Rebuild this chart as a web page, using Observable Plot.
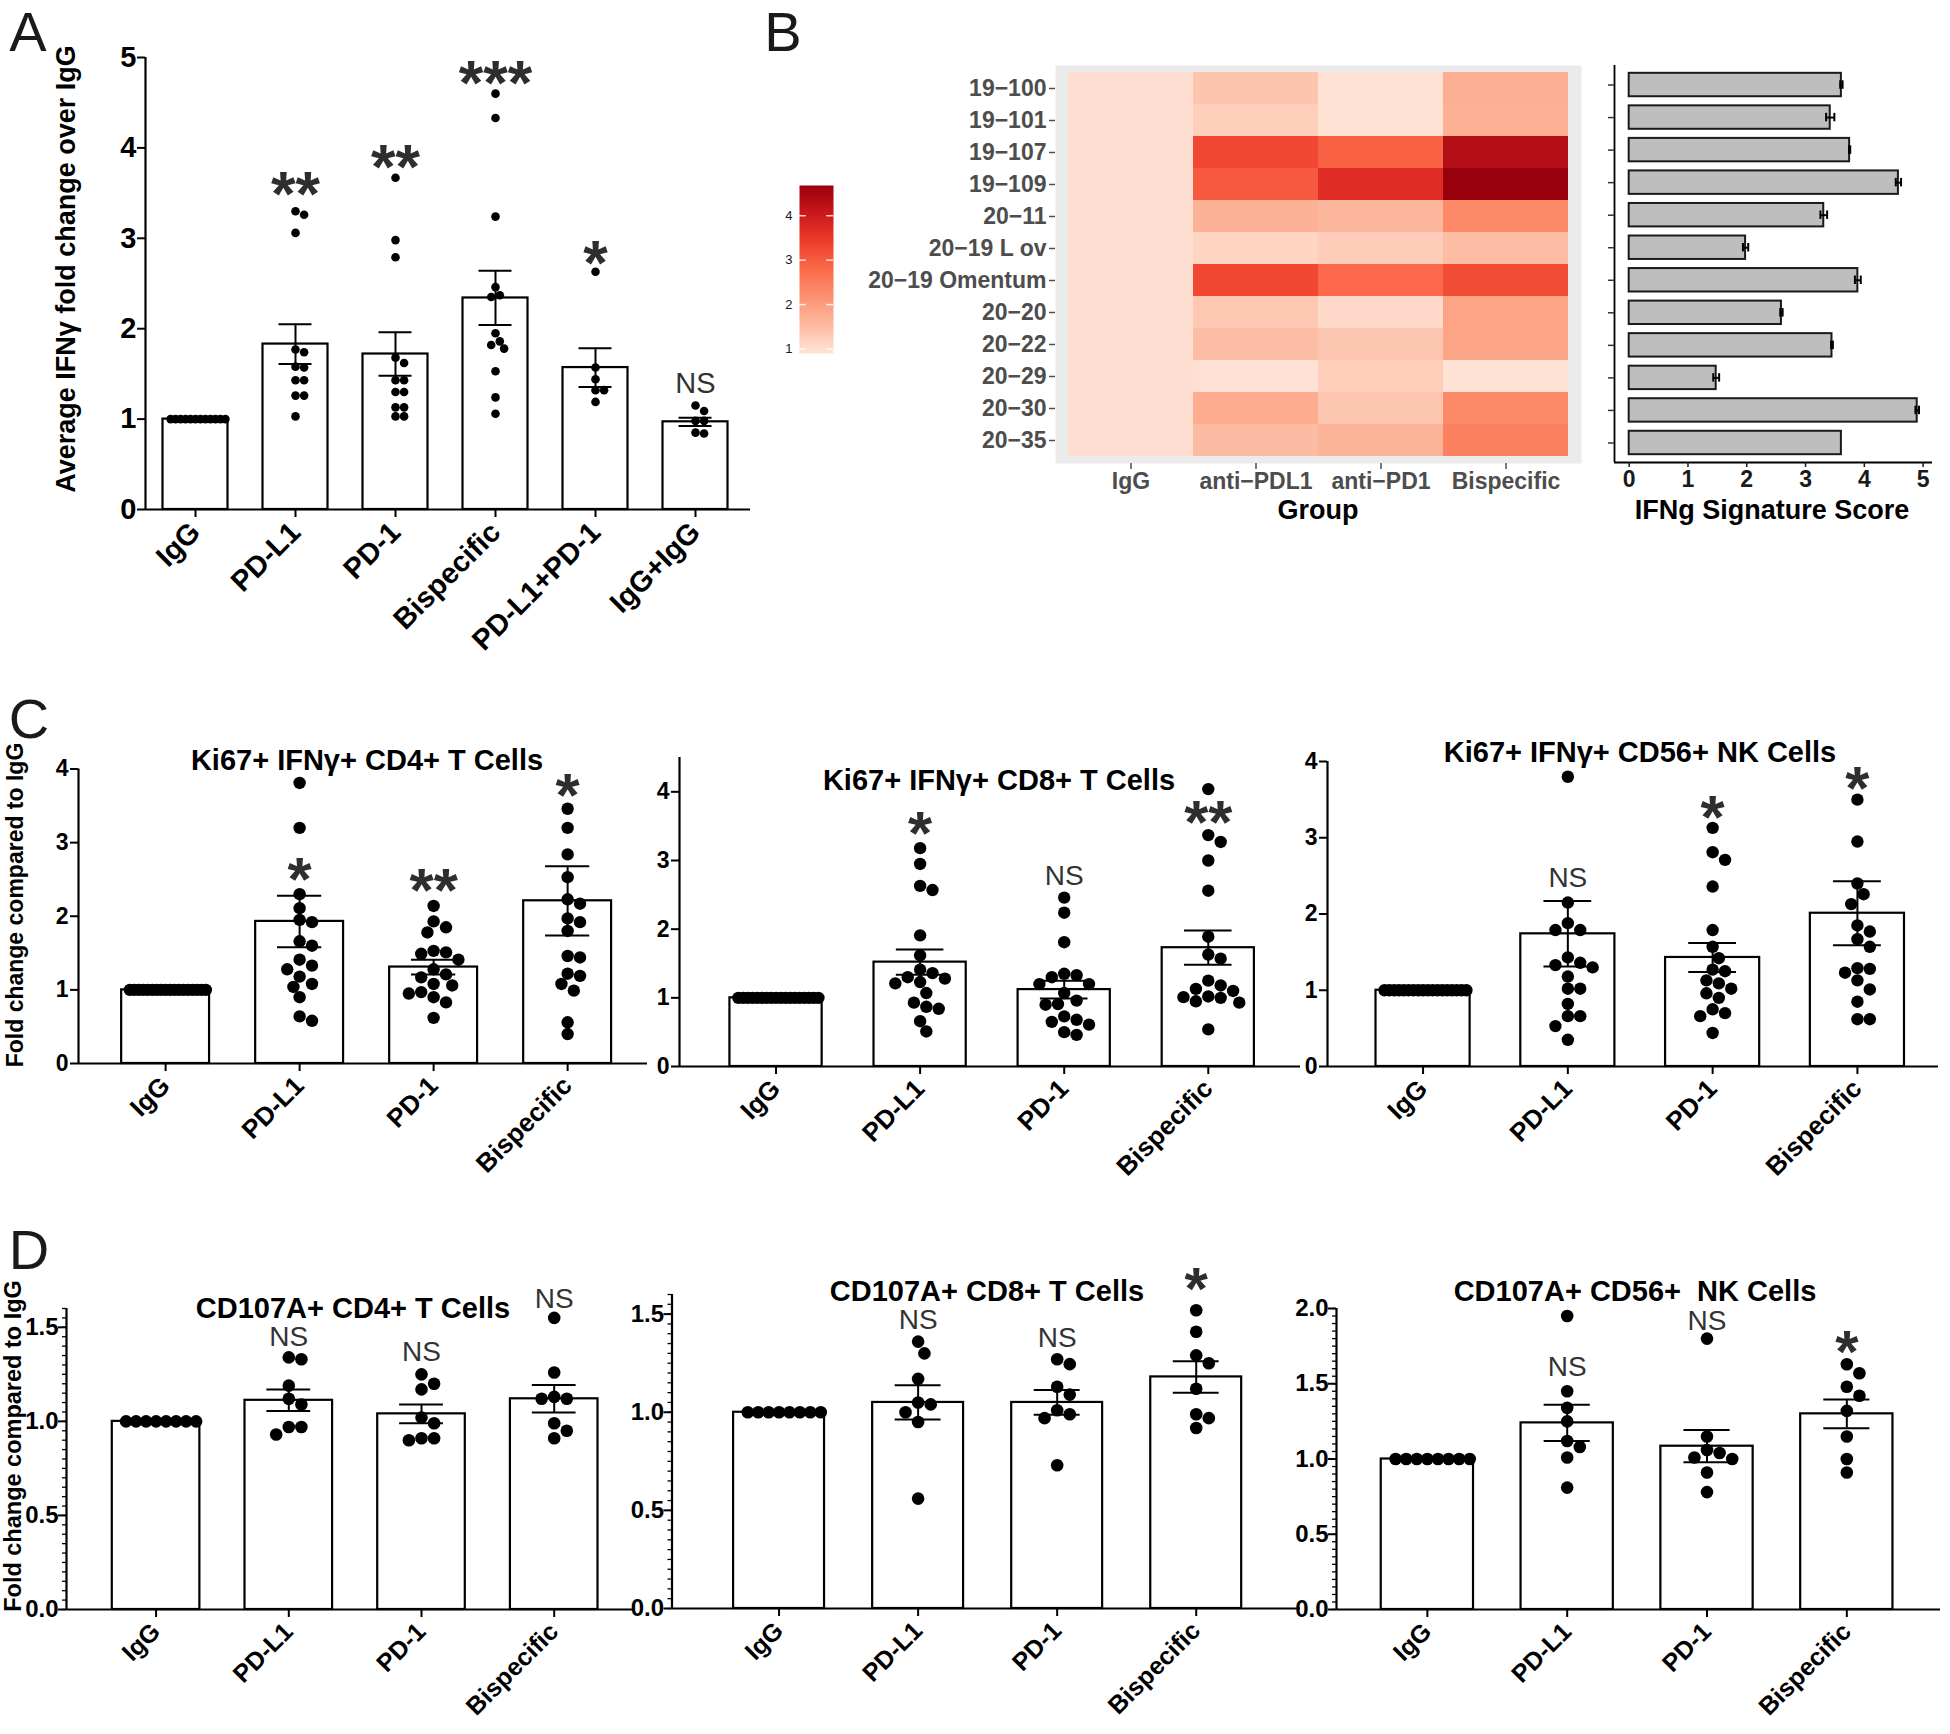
<!DOCTYPE html>
<html><head><meta charset="utf-8">
<script src="https://cdn.jsdelivr.net/npm/d3@7"></script>
<script src="https://cdn.jsdelivr.net/npm/@observablehq/plot@0.6"></script>
<style>
html,body{margin:0;padding:0;background:#fff;}
#page{position:relative;width:1950px;height:1734px;overflow:hidden;background:#fff;font-family:'Liberation Sans',Arial,sans-serif;}
.pl{position:absolute;}
.pl svg{overflow:visible;}
.lbl{position:absolute;white-space:pre;line-height:1;}
</style></head><body><div id="page"></div>
<script>
// ---------------- DATA ----------------
// Panel A
const groupsA = ["IgG", "PD-L1", "PD-1", "Bispecific", "PD-L1+PD-1", "IgG+IgG"];
const meanA = [1.00, 1.83, 1.72, 2.34, 1.57, 0.97];
const semA = [0, 0.22, 0.24, 0.30, 0.215, 0.045];
const dotsA = [
  [1, 1, 1, 1, 1, 1, 1, 1, 1, 1, 1, 1],
  [3.30, 3.26, 3.06, 1.77, 1.74, 1.58, 1.57, 1.43, 1.43, 1.26, 1.26, 1.03],
  [3.67, 2.98, 2.79, 1.68, 1.62, 1.43, 1.43, 1.30, 1.30, 1.13, 1.13, 1.03, 1.03],
  [4.60, 4.33, 3.24, 2.46, 2.37, 2.35, 1.95, 1.86, 1.82, 1.78, 1.53, 1.24, 1.06],
  [2.63, 1.57, 1.44, 1.32, 1.32, 1.19],
  [1.15, 1.09, 0.98, 0.98, 0.85, 0.84]
];
const sigA = ["", "**", "**", "***", "*", "NS"];
const sigYA = [null, 3.56, 3.86, 4.79, 2.79, 1.39];

// Panel B
const samples = ["19\u2212100", "19\u2212101", "19\u2212107", "19\u2212109", "20\u221211", "20\u221219 L ov", "20\u221219 Omentum", "20\u221220", "20\u221222", "20\u221229", "20\u221230", "20\u221235"];
const heatGroups = ["IgG", "anti\u2212PDL1", "anti\u2212PD1", "Bispecific"];
const heatIgG = [1, 1, 1, 1, 1, 1, 1, 1, 1, 1, 1, 1];
const heatPDL1 = [1.38, 1.23, 3.28, 3.04, 1.68, 1.14, 3.27, 1.35, 1.50, 0.96, 1.76, 1.51];
const heatPD1 = [0.95, 0.95, 2.93, 3.70, 1.61, 1.27, 2.80, 1.08, 1.36, 1.24, 1.36, 1.64];
const heatBisp = [1.71, 1.70, 4.33, 4.68, 2.31, 1.50, 3.22, 1.88, 1.87, 0.95, 2.31, 2.44];
const scoreB = [3.61, 3.42, 3.75, 4.58, 3.31, 1.98, 3.89, 2.59, 3.45, 1.48, 4.90, 3.61];
const scoreErrB = [0.02, 0.07, 0.01, 0.045, 0.057, 0.045, 0.05, 0.02, 0.015, 0.05, 0.03, 0];
const legendTicks = [1, 2, 3, 4];
const scoreTicks = [0, 1, 2, 3, 4, 5];
const reds7 = ["#FEE5D9", "#FCBBA1", "#FC9272", "#FB6A4A", "#EF3B2C", "#CB181D", "#99000D"];

// Panel C
const groupsC = ["IgG", "PD-L1", "PD-1", "Bispecific"];
const meanC1 = [1.00, 1.93, 1.31, 2.21];
const semC1 = [0, 0.35, 0.10, 0.47];
const dotsC1 = [
  [1, 1, 1, 1, 1, 1, 1, 1, 1, 1, 1, 1, 1, 1, 1, 1, 1, 1],
  [3.81, 3.20, 2.30, 2.11, 1.95, 1.92, 1.66, 1.60, 1.41, 1.33, 1.28, 1.18, 1.08, 1.04, 0.90, 0.64, 0.58],
  [2.14, 1.93, 1.85, 1.78, 1.53, 1.51, 1.49, 1.41, 1.28, 1.21, 1.17, 1.08, 1.06, 0.97, 0.95, 0.90, 0.83, 0.62],
  [3.46, 3.20, 2.84, 2.53, 2.23, 2.17, 1.97, 1.92, 1.80, 1.46, 1.44, 1.22, 1.19, 1.08, 0.99, 0.56, 0.40]
];
const sigC1 = ["", "*", "**", "*"];
const sigYC1 = [null, 2.58, 2.44, 3.72];

const meanC2 = [1.00, 1.52, 1.12, 1.73];
const semC2 = [0, 0.185, 0.13, 0.25];
const dotsC2 = [
  [1, 1, 1, 1, 1, 1, 1, 1, 1, 1, 1, 1, 1, 1, 1, 1, 1, 1],
  [3.18, 2.95, 2.63, 2.57, 1.91, 1.62, 1.41, 1.36, 1.30, 1.28, 1.23, 1.21, 1.07, 0.93, 0.87, 0.84, 0.66, 0.51],
  [2.46, 2.24, 1.81, 1.35, 1.33, 1.30, 1.20, 1.20, 1.07, 0.96, 0.91, 0.90, 0.73, 0.68, 0.65, 0.61, 0.50, 0.46],
  [4.04, 3.37, 3.27, 3.00, 2.56, 1.89, 1.63, 1.57, 1.25, 1.18, 1.13, 1.10, 1.02, 1.01, 1.00, 0.95, 0.93, 0.54]
];
const sigC2 = ["", "*", "NS", "**"];
const sigYC2 = [null, 3.48, 2.77, 3.65];

const meanC3 = [1.00, 1.74, 1.43, 2.01];
const semC3 = [0, 0.43, 0.19, 0.42];
const dotsC3 = [
  [1, 1, 1, 1, 1, 1, 1, 1, 1, 1, 1, 1, 1, 1, 1, 1, 1, 1],
  [3.80, 2.15, 1.88, 1.79, 1.79, 1.43, 1.36, 1.33, 1.30, 1.18, 1.02, 1.02, 0.82, 0.66, 0.66, 0.53, 0.35],
  [3.13, 2.81, 2.71, 2.36, 1.79, 1.57, 1.42, 1.27, 1.25, 1.13, 1.09, 1.02, 0.96, 0.90, 0.75, 0.70, 0.66, 0.44],
  [3.50, 2.95, 2.40, 2.26, 2.13, 1.85, 1.77, 1.67, 1.57, 1.29, 1.28, 1.23, 1.13, 1.01, 0.85, 0.62, 0.62]
];
const sigC3 = ["", "NS", "*", "*"];
const sigYC3 = [null, 2.47, 3.35, 3.73];

// Panel D
const meanD1 = [1.00, 1.112, 1.04, 1.12];
const semD1 = [0, 0.057, 0.05, 0.073];
const dotsD1 = [
  [1, 1, 1, 1, 1, 1, 1, 1],
  [1.34, 1.33, 1.19, 1.12, 1.09, 0.97, 0.97, 0.93],
  [1.25, 1.20, 1.17, 1.02, 0.99, 0.91, 0.91, 0.90],
  [1.55, 1.26, 1.13, 1.12, 1.12, 0.99, 0.95, 0.91]
];
const sigD1 = ["", "NS", "NS", "NS"];
const sigYD1 = [null, 1.45, 1.37, 1.65];

const meanD2 = [1.00, 1.05, 1.05, 1.18];
const semD2 = [0, 0.087, 0.063, 0.08];
const dotsD2 = [
  [1, 1, 1, 1, 1, 1, 1, 1],
  [1.36, 1.30, 1.17, 1.05, 1.04, 1.00, 0.95, 0.56],
  [1.27, 1.245, 1.13, 1.09, 1.01, 0.99, 0.97, 0.73],
  [1.52, 1.41, 1.29, 1.25, 1.12, 0.99, 0.97, 0.92]
];
const sigD2 = ["", "NS", "NS", "*"];
const sigYD2 = [null, 1.47, 1.38, 1.66];

const meanD3 = [1.00, 1.24, 1.085, 1.30];
const semD3 = [0, 0.12, 0.107, 0.095];
const dotsD3 = [
  [1, 1, 1, 1, 1, 1, 1, 1],
  [1.95, 1.45, 1.34, 1.25, 1.12, 1.08, 1.01, 0.81],
  [1.80, 1.15, 1.06, 1.04, 1.01, 1.00, 0.91, 0.78],
  [1.63, 1.57, 1.48, 1.42, 1.32, 1.15, 1.00, 0.91]
];
const sigD3 = ["", "NS", "NS", "*"];
const sigYD3 = [null, 1.61, 1.92, 1.75];

// ---------------- HELPERS ----------------
const FONT = "'Liberation Sans', Arial, Helvetica, sans-serif";
const page = document.getElementById("page");
function place(node, x, y) {
  const d = document.createElement("div");
  d.className = "pl"; d.style.left = x + "px"; d.style.top = y + "px";
  d.appendChild(node); page.appendChild(d);
}
function label(text, x, y, o = {}) {
  const el = document.createElement("div");
  el.className = "lbl";
  el.textContent = text;
  el.style.left = x + "px"; el.style.top = y + "px";
  el.style.fontSize = (o.size || 20) + "px";
  el.style.fontWeight = o.weight || "bold";
  el.style.color = o.color || "#000";
  el.style.fontFamily = o.family || FONT;
  el.style.transform = "translate(-50%,-50%)" + (o.rotate ? ` rotate(${o.rotate}deg)` : "");
  page.appendChild(el);
}

function barPanel(c) {
  const [sx, sy, sw, sh] = c.box;
  const [fl, fr, ft, fb] = c.frame;
  const xDom = c.xDom, yMax = c.yMax;
  const pxX = (fr - fl) / (xDom[1] - xDom[0]);
  const pxY = (fb - ft) / yMax;
  const d = 2 * c.r;
  const dotData = [];
  c.dots.forEach((vals, i) => {
    const placed = [];
    for (const v of vals) {
      const py = v * pxY;
      let off = 0;
      for (let n = 0; n < 400; n++) {
        const cand = n === 0 ? 0 : (n % 2 ? 1 : -1) * Math.ceil(n / 2) * d / 2;
        if (placed.every(p => (p.x - cand) ** 2 + (p.y - py) ** 2 >= d * d * 0.9)) { off = cand; break; }
      }
      placed.push({x: off, y: py, v});
    }
    const maxOff = d3.max(placed, p => Math.abs(p.x)) || 0;
    const lim = c.barHalf * pxX - c.r * 0.6;
    const s = maxOff > lim ? lim / maxOff : 1;
    for (const p of placed) dotData.push({x: i + p.x * s / pxX, y: p.v});
  });
  const bars = c.groups.map((g, i) => ({i, m: c.mean[i], e: c.sem[i]}));
  const errs = bars.filter(b => b.e > 0);
  const caps = errs.flatMap(b => [{i: b.i, v: b.m - b.e}, {i: b.i, v: b.m + b.e}]);
  const sigs = c.sig.map((s, i) => ({i, s, y: c.sigY[i]})).filter(q => q.s);
  const ast = sigs.filter(q => q.s.startsWith("*"));
  const ns = sigs.filter(q => !q.s.startsWith("*"));
  const astSize = c.astSize || 62, nsSize = c.nsSize || 28;
  const marks = [
    Plot.rectY(bars, {x1: q => q.i - c.barHalf, x2: q => q.i + c.barHalf, y1: 0, y2: "m", fill: "white", stroke: "black", strokeWidth: 2.2}),
    Plot.ruleX(errs, {x: "i", y1: q => q.m - q.e, y2: q => q.m + q.e, stroke: "black", strokeWidth: 2}),
    Plot.ruleY(caps, {y: "v", x1: q => q.i - c.capHalf, x2: q => q.i + c.capHalf, stroke: "black", strokeWidth: 2}),
    Plot.dot(dotData, {x: "x", y: "y", r: c.r, fill: "black"}),
    Plot.ruleX([xDom[0]], {y1: 0, y2: yMax, stroke: "black", strokeWidth: 2.2}),
    Plot.ruleY([0], {x1: xDom[0], x2: xDom[1], stroke: "black", strokeWidth: 2.2}),
    Plot.axisY({ticks: c.yTicks, label: null, tickSize: 8, tickPadding: c.yPad ?? 2, fontSize: c.yFont, fontWeight: "bold", tickFormat: c.yFormat || (v => String(v)), strokeWidth: 2}),
    Plot.axisX({ticks: c.groups.map((g, i) => i), label: null, tickFormat: i => c.groups[i], tickRotate: -45, tickSize: 8, tickPadding: c.xPad ?? 10, fontSize: c.xFont, fontWeight: "bold", strokeWidth: 2}),
    Plot.text(ast, {x: "i", y: "y", text: "s", fontSize: astSize, fontWeight: "bold", fill: "#2e2e2e", lineAnchor: "middle", dy: astSize * 0.11}),
    Plot.text(ns, {x: "i", y: "y", text: "s", fontSize: nsSize, fontWeight: "normal", fill: "#333", lineAnchor: "middle"})
  ];
  if (c.minor) marks.push(Plot.axisY({ticks: c.minor, label: null, tickSize: 4, tickFormat: () => "", strokeWidth: 1.3}));
  const plot = Plot.plot({
    width: sw, height: sh,
    marginLeft: fl - sx, marginRight: sx + sw - fr, marginTop: ft - sy, marginBottom: sy + sh - fb,
    x: {domain: xDom, axis: null}, y: {domain: [0, yMax], axis: null},
    style: {fontFamily: FONT, fontWeight: "bold", color: "#000", background: "transparent", overflow: "visible"},
    marks
  });
  place(plot, sx, sy);
}

// ---------------- PANEL A ----------------
barPanel({
  groups: groupsA, mean: meanA, sem: semA, dots: dotsA, sig: sigA, sigY: sigYA,
  box: [0, 0, 770, 690], frame: [145, 750, 57, 509], xDom: [-0.5, 5.55], yMax: 5,
  yTicks: [0, 1, 2, 3, 4, 5], r: 4.3, barHalf: 0.325, capHalf: 0.165,
  yFont: 29, xFont: 29, xPad: 10, yPad: 1, astSize: 63, nsSize: 29
});

// ---------------- PANEL B ----------------
const colorOpts = {type: "linear", domain: [0.9, 4.68], interpolate: d3.piecewise(d3.interpolateLab, reds7)};
const heatCols = [heatIgG, heatPDL1, heatPD1, heatBisp];
const heatData = heatCols.flatMap((col, gi) => col.map((v, si) => ({g: heatGroups[gi], s: samples[si], v})));
const heat = Plot.plot({
  width: 740, height: 540, marginLeft: 195, marginRight: 19, marginTop: 65, marginBottom: 77,
  x: {domain: heatGroups, paddingInner: 0, paddingOuter: 0.104, axis: null, label: null},
  y: {domain: samples, paddingInner: 0, paddingOuter: 0.107, axis: null, label: null},
  color: colorOpts,
  style: {fontFamily: FONT, fontWeight: "bold", background: "transparent", overflow: "visible"},
  marks: [
    Plot.frame({fill: "#EBEBEB", stroke: null}),
    Plot.cell(heatData, {x: "g", y: "s", fill: "v", inset: 0}),
    Plot.axisY({label: null, tickSize: 6, tickPadding: 3, fontSize: 23, color: "#4D4D4D", strokeWidth: 1.5}),
    Plot.axisX({label: null, tickSize: 6, tickPadding: 3, fontSize: 23, color: "#4D4D4D", strokeWidth: 1.5})
  ]
});
place(heat, 860, 0);

const legend = Plot.plot({
  width: 90, height: 200, marginLeft: 39, marginRight: 17, marginTop: 15, marginBottom: 17,
  x: {domain: [0, 1], axis: null}, y: {domain: [0.9, 4.68], axis: null},
  color: colorOpts,
  style: {fontFamily: FONT, background: "transparent", overflow: "visible"},
  marks: [
    Plot.raster({x1: 0, x2: 1, y1: 0.9, y2: 4.68, width: 2, height: 256, fill: (x, y) => y, imageRendering: "auto"}),
    Plot.ruleY(legendTicks, {x1: 0, x2: 0.2, stroke: "white", strokeWidth: 1.5, strokeOpacity: 0.8}),
    Plot.ruleY(legendTicks, {x1: 0.8, x2: 1, stroke: "white", strokeWidth: 1.5, strokeOpacity: 0.8}),
    Plot.axisY({ticks: legendTicks, label: null, tickFormat: d3.format("d"), tickSize: 0, tickPadding: 7, fontSize: 13, color: "#1a1a1a"})
  ]
});
place(legend, 760, 170);

const scoreData = scoreB.map((v, i) => ({i, v, e: scoreErrB[i]}));
const scoreErrs = scoreData.filter(q => q.e > 0);
const scoreCaps = scoreErrs.flatMap(q => [{i: q.i, x: q.v - q.e}, {i: q.i, x: q.v + q.e}]);
const scorePlot = Plot.plot({
  width: 360, height: 540, marginLeft: 24, marginRight: 18, marginTop: 65, marginBottom: 78,
  x: {domain: [-0.25, 5.16], axis: null, label: null}, y: {domain: [11.6, -0.6], axis: null, label: null},
  style: {fontFamily: FONT, fontWeight: "bold", background: "transparent", overflow: "visible"},
  marks: [
    Plot.rectX(scoreData, {x1: 0, x2: "v", y1: q => q.i - 0.36, y2: q => q.i + 0.36, fill: "#BEBEBE", stroke: "#1a1a1a", strokeWidth: 2}),
    Plot.ruleY(scoreErrs, {y: "i", x1: q => q.v - q.e, x2: q => q.v + q.e, stroke: "black", strokeWidth: 2}),
    Plot.ruleX(scoreCaps, {x: "x", y1: q => q.i - 0.13, y2: q => q.i + 0.13, stroke: "black", strokeWidth: 2}),
    Plot.ruleX([-0.25], {stroke: "black", strokeWidth: 1.8}),
    Plot.ruleY([11.6], {x1: -0.25, x2: 5.16, stroke: "black", strokeWidth: 1.8}),
    Plot.axisY({ticks: samples.map((s, i) => i), label: null, tickSize: 6, tickFormat: () => "", color: "#333", strokeWidth: 1.5}),
    Plot.axisX({ticks: scoreTicks, label: null, tickFormat: d3.format("d"), tickSize: 5, tickPadding: 3, fontSize: 23, color: "#1a1a1a", strokeWidth: 1.5})
  ]
});
place(scorePlot, 1590, 0);

// ---------------- PANEL C ----------------
const cCommon = {groups: groupsC, r: 6.2, capHalf: 0.165, yFont: 23, xFont: 26, xPad: 10, yPad: 2, astSize: 62, nsSize: 28};
barPanel({...cCommon, mean: meanC1, sem: semC1, dots: dotsC1, sig: sigC1, sigY: sigYC1,
  box: [0, 720, 660, 480], frame: [78, 647, 768.5, 1063], xDom: [-0.65, 3.596], yMax: 4,
  yTicks: [0, 1, 2, 3, 4], barHalf: 0.328});
barPanel({...cCommon, mean: meanC2, sem: semC2, dots: dotsC2, sig: sigC2, sigY: sigYC2,
  box: [600, 720, 720, 480], frame: [679, 1300, 757, 1066], xDom: [-0.67, 3.64], yMax: 4.5,
  yTicks: [0, 1, 2, 3, 4], barHalf: 0.32});
barPanel({...cCommon, mean: meanC3, sem: semC3, dots: dotsC3, sig: sigC3, sigY: sigYC3,
  box: [1250, 720, 700, 480], frame: [1327, 1938, 761, 1066], xDom: [-0.66, 3.56], yMax: 4,
  yTicks: [0, 1, 2, 3, 4], barHalf: 0.325});

// ---------------- PANEL D ----------------
const f1 = d3.format(".1f");
const dCommon = {groups: groupsC, r: 6.3, capHalf: 0.165, yFont: 24, xFont: 25, xPad: 10, yPad: 0, astSize: 60, nsSize: 28, yFormat: f1};
barPanel({...dCommon, mean: meanD1, sem: semD1, dots: dotsD1, sig: sigD1, sigY: sigYD1,
  box: [0, 1230, 650, 504], frame: [66, 634, 1308, 1609], xDom: [-0.675, 3.605], yMax: 1.6,
  yTicks: [0, 0.5, 1, 1.5], minor: d3.range(0, 1.6001, 0.05), barHalf: 0.33});
barPanel({...dCommon, mean: meanD2, sem: semD2, dots: dotsD2, sig: sigD2, sigY: sigYD2,
  box: [600, 1230, 720, 504], frame: [671.5, 1300, 1294, 1608], xDom: [-0.77, 3.75], yMax: 1.6,
  yTicks: [0, 0.5, 1, 1.5], minor: d3.range(0, 1.6001, 0.05), barHalf: 0.327});
barPanel({...dCommon, mean: meanD3, sem: semD3, dots: dotsD3, sig: sigD3, sigY: sigYD3,
  box: [1250, 1230, 700, 504], frame: [1336, 1940, 1308, 1609], xDom: [-0.65, 3.67], yMax: 2.0,
  yTicks: [0, 0.5, 1, 1.5, 2], minor: d3.range(0, 2.0001, 0.05), barHalf: 0.33});

// ---------------- TEXT ----------------
label("A", 28, 32, {size: 56, weight: "normal", color: "#1a1a1a"});
label("B", 783, 32, {size: 56, weight: "normal", color: "#1a1a1a"});
label("C", 29, 719, {size: 56, weight: "normal", color: "#1a1a1a"});
label("D", 29, 1250, {size: 56, weight: "normal", color: "#1a1a1a"});
label("Average IFN\u03b3 fold change over IgG", 66, 269, {size: 27, rotate: -90});
label("Fold change compared to IgG", 15, 905, {size: 23, rotate: -90});
label("Fold change compared to IgG", 14, 1446, {size: 23.5, rotate: -90});
label("Ki67+ IFN\u03b3+ CD4+ T Cells", 367, 760, {size: 29});
label("Ki67+ IFN\u03b3+ CD8+ T Cells", 999, 780, {size: 29});
label("Ki67+ IFN\u03b3+ CD56+ NK Cells", 1640, 752, {size: 29});
label("CD107A+ CD4+ T Cells", 353, 1308, {size: 29});
label("CD107A+ CD8+ T Cells", 987, 1291, {size: 29});
label("CD107A+ CD56+  NK Cells", 1635, 1291, {size: 29});
label("Group", 1318, 510, {size: 27});
label("IFNg Signature Score", 1772, 510, {size: 27});
</script></body></html>
